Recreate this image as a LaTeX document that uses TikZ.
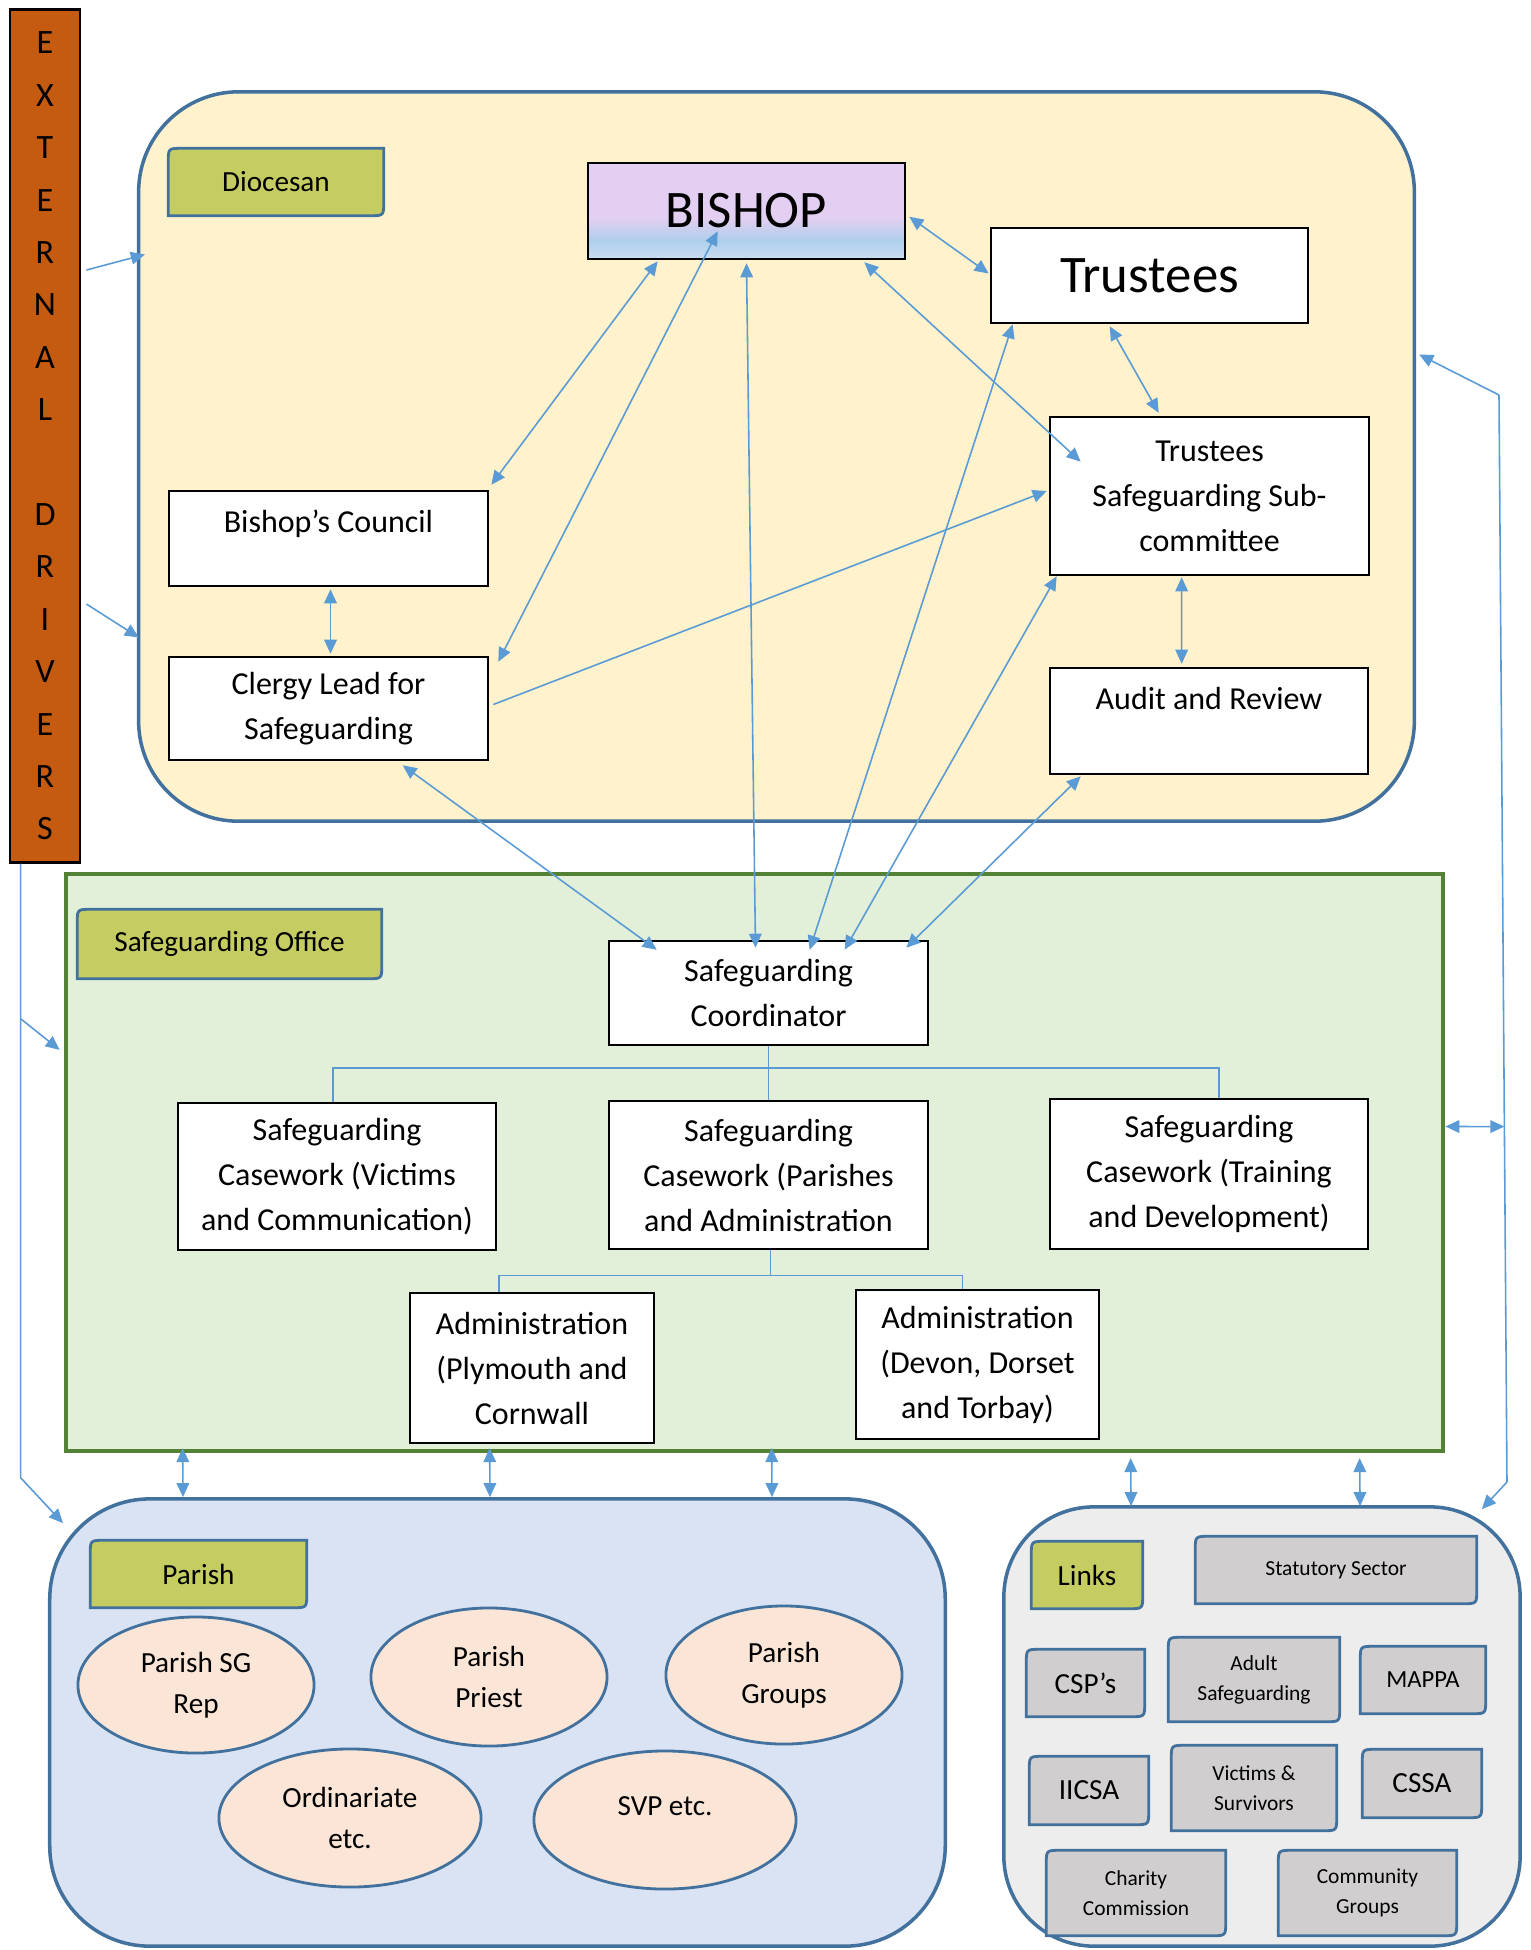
\documentclass[tikz,border=0pt]{standalone}
\usepackage{fontspec}
\setmainfont{Carlito}
\usepackage{xcolor}
\usepackage{tikz}
\usetikzlibrary{calc, arrows.meta, shapes.geometric}

\definecolor{dioyellow}{HTML}{FFF2CC}
\definecolor{offgreen}{HTML}{E2F0D9}
\definecolor{offborder}{HTML}{548235}
\definecolor{parblue}{HTML}{DAE3F3}
\definecolor{linkgrey}{HTML}{EDEDED}
\definecolor{itemgrey}{HTML}{D0CECE}
\definecolor{tagolive}{HTML}{C5CD62}
\definecolor{edgeblue}{HTML}{41719C}
\definecolor{linkblue}{HTML}{5B9BD5}
\definecolor{peach}{HTML}{FBE5D6}
\definecolor{rust}{HTML}{C55A11}
\definecolor{lav}{HTML}{E2CFF1}
\definecolor{skyb}{HTML}{AFCFEB}
\definecolor{skyl}{HTML}{C9DDF1}

\pgfdeclareverticalshading{bishopsky}{100bp}{color(0bp)=(skyl); color(25bp)=(skyl); color(35bp)=(skyb); color(46bp)=(lav); color(100bp)=(lav)}

\pgfdeclarelayer{back}
\pgfsetlayers{back,main}

\newcommand{\boxfont}{\fontsize{9.1}{12.8}\selectfont}
\newcommand{\bigfont}{\fontsize{15}{18}\selectfont}
\newcommand{\tagfont}{\fontsize{8.3}{11.7}\selectfont}
\newcommand{\midfont}{\fontsize{7}{9}\selectfont}
\newcommand{\smallfont}{\fontsize{6.1}{8.5}\selectfont}
\newcommand{\extfont}{\fontsize{9.7}{14.9}\selectfont}

% outline with two rounded corners (top left, bottom right)
\newcommand{\snipbox}[2]{%
    \filldraw[draw=edgeblue, line width=0.8pt, fill=#2]
        (#1.south west) -- ([yshift=-4pt]#1.north west) .. controls (#1.north west) .. ([xshift=4pt]#1.north west)
        -- (#1.north east) -- ([yshift=4pt]#1.south east) .. controls (#1.south east) .. ([xshift=-4pt]#1.south east)
        -- cycle;}

\tikzset{
    box/.style = {
        draw,
        line width = 0.7pt,
        fill       = white,
        align      = center,
        inner sep  = 0pt,
        font       = \boxfont,
    },
    region/.style = {draw=edgeblue, line width=1pt, rounded corners=1cm, inner sep=0pt},
    tag/.style    = {align=center, inner sep=0pt, font=\tagfont},
    oval/.style   = {ellipse, draw=edgeblue, line width=0.8pt, fill=peach, inner sep=0pt, align=center, font=\tagfont},
    twoway/.style = {draw=linkblue, line width=0.45pt, {Triangle[length=4pt,width=3.6pt]}-{Triangle[length=4pt,width=3.6pt]}},
    oneway/.style = {draw=linkblue, line width=0.45pt, -{Triangle[length=4pt,width=3.6pt]}},
    tree/.style   = {draw=linkblue, line width=0.45pt},
}

\begin{document}
\begin{tikzpicture}[x=0.01cm, y=-0.01cm]
    \useasboundingbox (0,0) rectangle (1531,1950);

    \node (ext) [draw, line width=0.8pt, fill=rust, minimum width=0.7cm, minimum height=8.52cm, inner sep=0pt, align=center, font=\extfont] at (45,436) {E\\X\\T\\E\\R\\N\\A\\L\\[14.9pt]D\\R\\I\\V\\E\\R\\S};

    % diocesan
    \node (bishop) [draw, line width=0.7pt, shade, shading=bishopsky, minimum width=3.17cm, minimum height=0.96cm, font=\bigfont] at (746.5,211) {BISHOP};
    \node (trustees) [box, minimum width=3.17cm, minimum height=0.95cm, font=\bigfont] at (1149.5,275.5) {Trustees};
    \node (subcom) [box, minimum width=3.19cm, minimum height=1.58cm] at (1209.5,496) {Trustees\\Safeguarding Sub-\\committee};
    \node (audit) [box, minimum width=3.18cm, minimum height=1.06cm] at (1209,721) {Audit and Review\\[-4pt]\strut};
    \node (council) [box, minimum width=3.19cm, minimum height=0.95cm] at (328.5,538.5) {Bishop’s Council\\[-7pt]\strut};
    \node (clergy) [box, minimum width=3.19cm, minimum height=1.03cm] at (328.5,708.5) {Clergy Lead for\\Safeguarding};
    \node (diotag) [tag, minimum width=2.14cm, minimum height=0.66cm] at (276,182) {Diocesan};

    % safeguarding office
    \node (coord) [box, minimum width=3.19cm, minimum height=1.04cm] at (768.5,993) {Safeguarding\\Coordinator};
    \node (cwvic) [box, minimum width=3.18cm, minimum height=1.47cm] at (337,1176.5) {Safeguarding\\Casework (Victims\\and Communication)};
    \node (cwpar) [box, minimum width=3.19cm, minimum height=1.48cm] at (768.5,1175) {Safeguarding\\Casework (Parishes\\and Administration};
    \node (cwtrain) [box, minimum width=3.18cm, minimum height=1.5cm] at (1209,1174) {Safeguarding\\Casework (Training\\and Development)};
    \node (admply) [box, minimum width=2.44cm, minimum height=1.5cm] at (532,1368) {Administration\\(Plymouth and\\Cornwall};
    \node (admdev) [box, minimum width=2.43cm, minimum height=1.49cm] at (977.5,1364.5) {Administration\\(Devon, Dorset\\and Torbay)};
    \node (offtag) [tag, minimum width=3.03cm, minimum height=0.68cm] at (229.5,944) {Safeguarding Office};

    % parish
    \node (partag) [tag, minimum width=2.15cm, minimum height=0.66cm] at (198.5,1574) {Parish};
    \node (sgrep) [oval, minimum width=2.36cm, minimum height=1.36cm] at (196,1685) {Parish SG\\Rep};
    \node (priest) [oval, minimum width=2.36cm, minimum height=1.38cm] at (489,1677) {Parish\\Priest};
    \node (groups) [oval, minimum width=2.36cm, minimum height=1.38cm] at (784,1675) {Parish\\Groups};
    \node (ordin) [oval, minimum width=2.62cm, minimum height=1.38cm] at (350,1818) {Ordinariate\\etc.};
    \node (svp) [oval, minimum width=2.62cm, minimum height=1.38cm] at (665,1820) {SVP etc.\\[-7pt]\strut};

    % links
    \node (lnktag) [tag, minimum width=1.1cm, minimum height=0.66cm] at (1087,1575) {Links};
    \node (statutory) [tag, font=\smallfont, minimum width=2.8cm, minimum height=0.66cm] at (1336,1570) {Statutory Sector};
    \node (csp) [tag, minimum width=1.17cm, minimum height=0.66cm] at (1085.5,1683) {CSP’s};
    \node (adult) [tag, font=\smallfont, minimum width=1.7cm, minimum height=0.83cm] at (1254,1679.5) {Adult\\Safeguarding};
    \node (mappa) [tag, font=\midfont, minimum width=1.24cm, minimum height=0.66cm] at (1423,1680) {MAPPA};
    \node (iicsa) [tag, minimum width=1.18cm, minimum height=0.67cm] at (1089,1790.5) {IICSA};
    \node (victims) [tag, font=\smallfont, minimum width=1.64cm, minimum height=0.84cm] at (1254,1788) {Victims \&\\Survivors};
    \node (cssa) [tag, minimum width=1.18cm, minimum height=0.67cm] at (1422,1783.5) {CSSA};
    \node (charity) [tag, font=\smallfont, minimum width=1.78cm, minimum height=0.84cm] at (1136,1893) {Charity\\Commission};
    \node (community) [tag, font=\smallfont, minimum width=1.77cm, minimum height=0.84cm] at (1367.5,1893) {Community\\Groups};

    \begin{pgfonlayer}{back}
        \node (dio) [region, fill=dioyellow, minimum width=12.75cm, minimum height=7.29cm] at (776.5,456.5) {};
        \node (office) [draw=offborder, line width=1.1pt, fill=offgreen, inner sep=0pt, minimum width=13.77cm, minimum height=5.77cm] at (754.5,1162.5) {};
        \node (parish) [region, fill=parblue, minimum width=8.95cm, minimum height=4.47cm] at (497.5,1722.5) {};
        \node (links) [region, rounded corners=0.9cm, fill=linkgrey, minimum width=5.16cm, minimum height=4.39cm] at (1262,1726.5) {};
        \foreach \t in {diotag, offtag, partag, lnktag}
            \snipbox{\t}{tagolive};
        \foreach \t in {statutory, csp, adult, mappa, iicsa, victims, cssa, charity, community}
            \snipbox{\t}{itemgrey};
    \end{pgfonlayer}

    % staff tree
    \draw [tree] (coord.south) -- ++(0,22) coordinate (hub);
    \draw [tree] ($(cwvic.north)+(-4,0)$) |- (hub) -| ($(cwtrain.north)+(10,0)$);
    \draw [tree] (hub) -- (cwpar.north);
    \draw [tree] ($(cwpar.south)+(2,0)$) -- ++(0,25) coordinate (hubtwo);
    \draw [tree] ($(admply.north)+(-33,0)$) |- (hubtwo) -| ($(admdev.north)+(-15,0)$);

    % reporting lines
    \draw [twoway] ($(bishop.south west)+(71,1)$) -- ($(council.north east)+(2,-5)$);
    \draw [twoway] ($(bishop.south west)+(131,-29)$) -- ($(clergy.north east)+(9,6)$);
    \draw [twoway] ($(bishop.south)+(0,3)$) -- ($(coord.north)+(-13,8)$);
    \draw [twoway] ($(bishop.north east)+(3,55)$) -- ($(trustees.west)+(-1,-2)$);
    \draw [twoway] ($(bishop.south east)+(-42,2)$) -- ($(subcom.north west)+(32,46)$);
    \draw [twoway] ($(trustees.south west)+(120,2)$) -- ($(subcom.north west)+(110,-3)$);
    \draw [oneway] ($(clergy.east)+(4,-4)$) -- ($(subcom.west)+(-2,-5)$);
    \draw [twoway] ($(subcom.south west)+(133,1)$) -- ($(audit.north west)+(133,-3)$);
    \draw [twoway] ($(council.south)+(2,2)$) -- ($(clergy.north)+(2,-2)$);
    \draw [twoway] ($(clergy.south west)+(235,4)$) -- ($(coord.north west)+(49,10)$);
    \draw [twoway] ($(trustees.south west)+(23,0)$) -- ($(coord.north west)+(202,10)$);
    \draw [twoway] ($(subcom.south west)+(8,0)$) -- ($(coord.north west)+(237,10)$);
    \draw [twoway] ($(audit.south west)+(32,1)$) -- ($(coord.north east)+(-23,8)$);

    % external drivers
    \draw [oneway] ($(ext.east)+(5,-166)$) -- ($(dio.west)+(8,-202)$);
    \draw [oneway] ($(ext.east)+(5,168)$) -- ($(dio.west)+(2,181)$);
    \draw [oneway] ($(ext.south west)+(12,0)$) -- ++(0,155) coordinate (extbend) -- ($(office.north west)+(-4,178)$);
    \draw [oneway] (extbend) -- ++(0,459) -- ($(parish.north west)+(15,26)$);

    % right hand return
    \coordinate (rtop) at (1499,395);
    \coordinate (rbot) at (1507,1482);
    \draw [oneway] (rtop) -- ($(dio.east)+(3,-102)$);
    \draw [oneway] (rtop) -- (rbot) -- ($(links.north east)+(-40,4)$);
    \draw [twoway] ($(office.east)+(0,-36)$) -- ($(rtop)!0.673!(rbot)$);

    % office to parish and links
    \foreach \dx/\px in {119/135, 426/442, 708/724}
        \draw [twoway] ($(office.south west)+(\dx,-5)$) -- ($(parish.north west)+(\px,0)$);
    \foreach \dx/\px in {1067/129, 1296/358}
        \draw [twoway] ($(office.south west)+(\dx,5)$) -- ($(links.north west)+(\px,1)$);

\end{tikzpicture}
\end{document}
